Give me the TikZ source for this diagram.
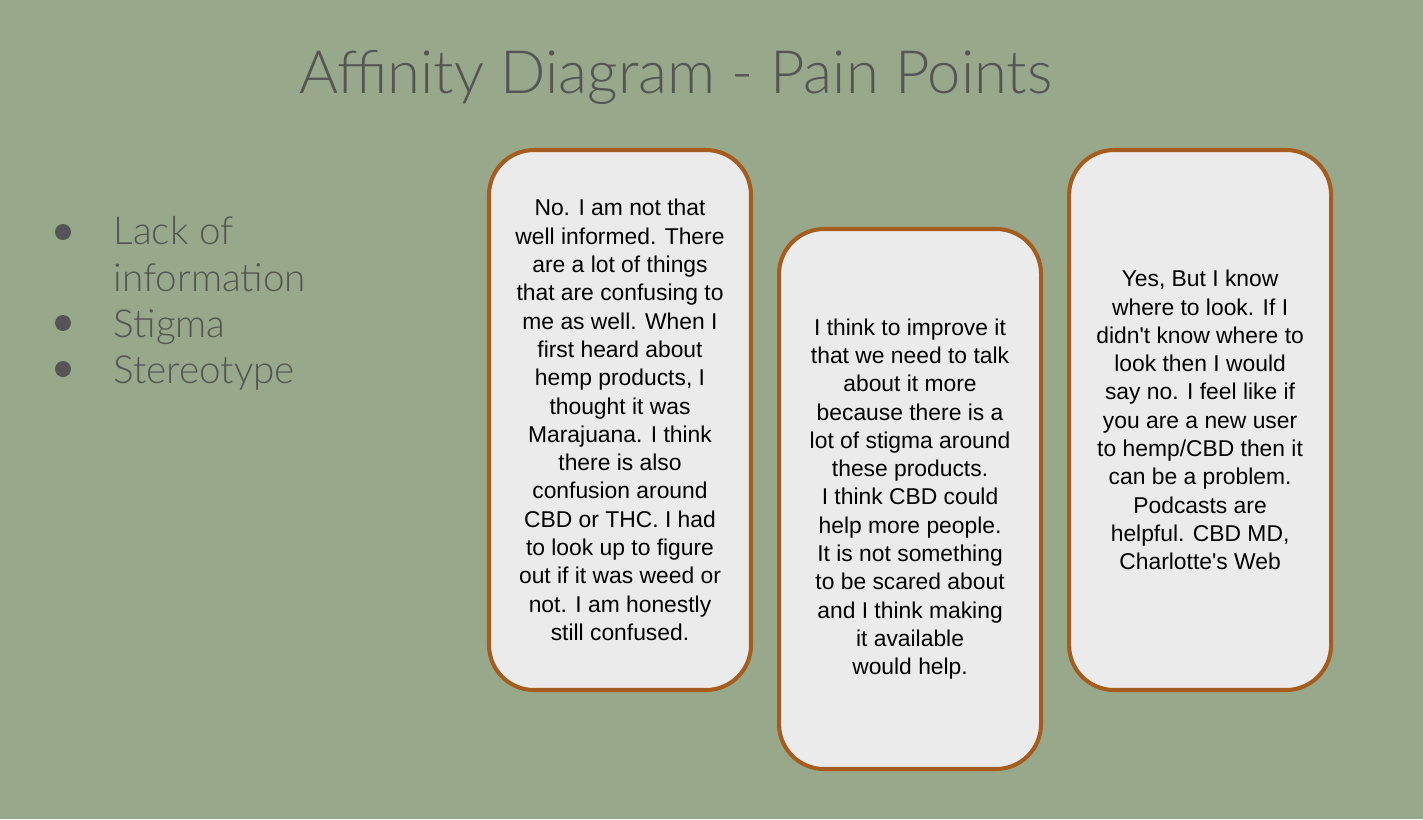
\documentclass[tikz,border=0pt]{standalone}
\usepackage{fontspec}
\setmainfont{Liberation Sans}
\newfontfamily\lightfont{Lato Light}
\usepackage{tikz}
\usetikzlibrary{positioning}
\definecolor{mSage}{HTML}{97A98A}
\definecolor{mRust}{HTML}{A65C1E}
\definecolor{mCard}{HTML}{EBEBEB}
\definecolor{mInk}{HTML}{555555}

\tikzset{
  card/.style={draw=mRust, line width=1.15pt, fill=mCard, rounded corners=0.45cm,
    minimum width=2.62cm, minimum height=5.40cm, align=center,
    font=\fontsize{6.5}{8.05}\selectfont, text=black, inner sep=0pt},
  point/.style={anchor=base west, align=left, text=mInk,
    font=\lightfont\fontsize{11}{13.1}\selectfont, inner sep=0pt}
}

\begin{document}
\begin{tikzpicture}
    \fill[mSage] (0,0) rectangle (14.23,-8.19);
    \useasboundingbox (0,0) rectangle (14.23,-8.19);
    \node[text=mInk, font=\lightfont\fontsize{17}{20}\selectfont, anchor=base] (title) at (6.76,-0.93) {Affinity Diagram - Pain Points};

    % bullet list
    \node[point] (lack) at (1.13,-2.91) {Lack of\\information};
    \node[point] (stigma) at (1.13,-3.37) {Stigma};
    \node[point] (stereo) at (1.13,-3.83) {Stereotype};
    \foreach \y in {2.32,3.23,3.69}
      \fill[mInk] (0.63,-\y) circle (0.08);

    % interview cards
    \node[card] (quoteA) at (6.20,-4.20) {No. I am not that\\well informed. There\\are a lot of things\\that are confusing to\\me as well. When I\\first heard about\\hemp products, I\\thought it was\\Marajuana. I think\\there is also\\confusion around\\CBD or THC. I had\\to look up to figure\\out if it was weed or\\not. I am honestly\\still confused.};
    \node[card, right=0.24cm of quoteA, yshift=-0.79cm] (quoteB) {I think to improve it\\that we need to talk\\about it more\\because there is a\\lot of stigma around\\these products.\\I think CBD could\\help more people.\\It is not something\\to be scared about\\and I think making\\it available\\would help.};
    \node[card, right=0.24cm of quoteB, yshift=0.79cm] (quoteC) {Yes, But I know\\where to look. If I\\didn\textquotesingle t know where to\\look then I would\\say no. I feel like if\\you are a new user\\to hemp/CBD then it\\can be a problem.\\Podcasts are\\helpful. CBD MD,\\Charlotte\textquotesingle s Web};
\end{tikzpicture}
\end{document}
